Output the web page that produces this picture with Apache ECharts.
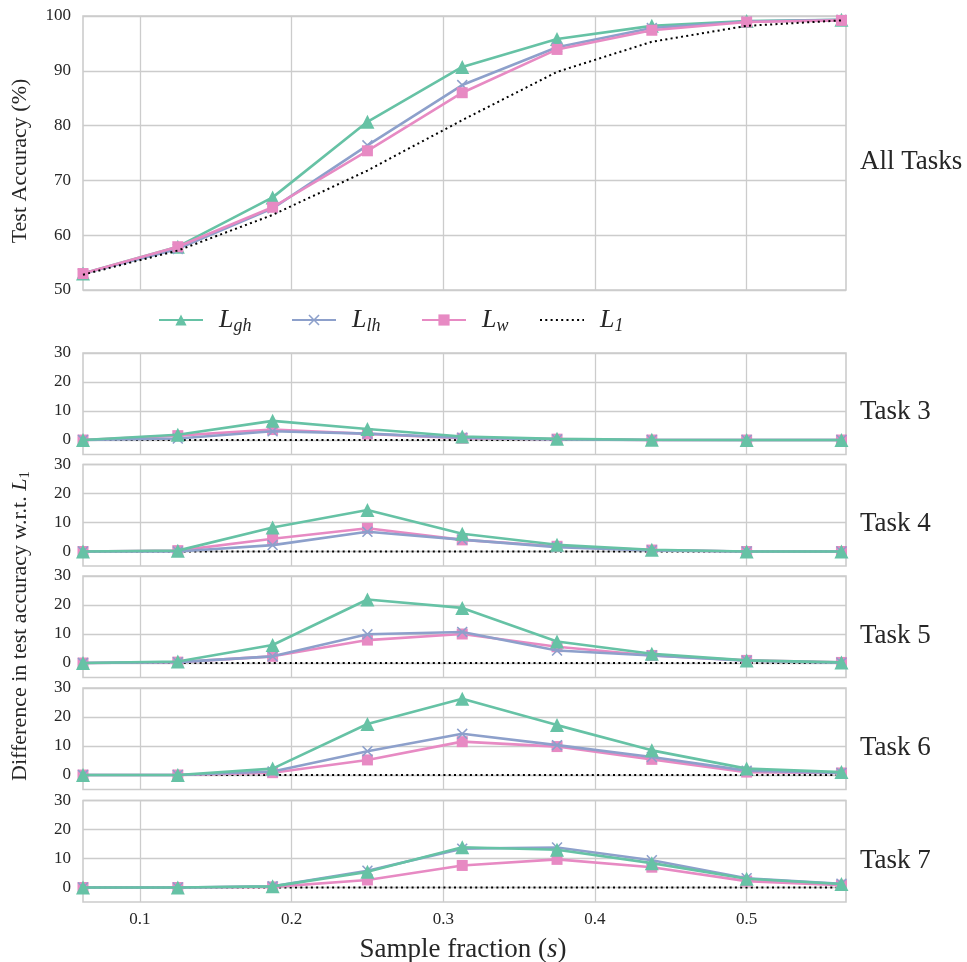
<!DOCTYPE html>
<html>
<head>
<meta charset="utf-8">
<script src="https://cdn.jsdelivr.net/npm/echarts@6/dist/echarts.min.js"></script>
<style>
  html, body { margin: 0; padding: 0; background: #ffffff; }
  #chart { width: 967px; height: 962px; }
</style>
</head>
<body>
<div id="chart"></div>
<script>
// ---- data ----
const sampleFractions = [0.0625, 0.125, 0.1875, 0.25, 0.3125, 0.375, 0.4375, 0.5, 0.5625];
const xTicks = [0.1, 0.2, 0.3, 0.4, 0.5];
const accTicks = [50, 60, 70, 80, 90, 100];
const diffTicks = [0, 10, 20, 30];

// All tasks: test accuracy (%)
const allGh = [53.0, 57.9, 66.9, 80.7, 90.7, 95.8, 98.2, 99.1, 99.3];
const allLh = [53.0, 57.5, 64.9, 76.4, 87.4, 94.3, 97.8, 99.0, 99.3];
const allW  = [53.0, 57.9, 65.1, 75.4, 86.0, 93.9, 97.4, 98.9, 99.2];
const allL1 = [52.8, 57.2, 63.7, 71.8, 81.0, 89.8, 95.3, 98.2, 99.2];

// Per task: difference in test accuracy w.r.t. L1
const taskNames = ['Task 3', 'Task 4', 'Task 5', 'Task 6', 'Task 7'];
const task3Gh = [0, 1.8, 6.6, 3.8, 1.2, 0.4, 0.1, 0.0, 0.0];
const task3Lh = [0, 0.5, 3.0, 2.2, 0.8, 0.2, 0.0, 0.0, 0.0];
const task3W  = [0, 1.5, 3.6, 2.1, 0.6, 0.3, 0.0, 0.0, 0.0];
const task4Gh = [0, 0.3, 8.3, 14.3, 6.1, 2.3, 0.6, 0.0, 0.0];
const task4Lh = [0, 0.0, 2.2, 6.8, 4.1, 1.5, 0.4, 0.0, 0.0];
const task4W  = [0, 0.3, 4.4, 8.0, 4.0, 1.8, 0.5, 0.0, 0.0];
const task5Gh = [0, 0.5, 6.2, 21.9, 19.0, 7.4, 3.2, 0.9, 0.2];
const task5Lh = [0, 0.3, 2.3, 9.9, 10.7, 4.3, 2.6, 0.8, 0.1];
const task5W  = [0, 0.3, 2.3, 7.9, 10.0, 5.6, 2.6, 0.9, 0.2];
const task6Gh = [0, 0.0, 2.2, 17.6, 26.3, 17.2, 8.5, 2.2, 1.0];
const task6Lh = [0, 0.0, 1.2, 8.2, 14.2, 10.3, 6.2, 1.5, 0.7];
const task6W  = [0, 0.0, 0.8, 5.2, 11.5, 9.8, 5.4, 1.0, 0.7];
const task7Gh = [0, 0.0, 0.4, 5.4, 13.9, 13.0, 8.4, 3.0, 1.2];
const task7Lh = [0, 0.0, 0.4, 5.8, 13.4, 13.8, 9.4, 3.2, 1.3];
const task7W  = [0, 0.0, 0.2, 2.6, 7.6, 9.7, 7.0, 2.2, 0.8];
const taskL1  = [0, 0, 0, 0, 0, 0, 0, 0, 0];

// ---- styling ----
const FONT = '"Liberation Serif", "DejaVu Serif", serif';
const TEXT = '#262626';
const LINE_GREY = '#cccccc';
const COLORS = { gh: '#66c2a5', lh: '#8da0cb', w: '#e78ac3', l1: '#000000' };
const NAMES = { gh: 'L_gh', lh: 'L_lh', w: 'L_w', l1: 'L_1' };
const SUBS = { L_gh: 'gh', L_lh: 'lh', L_w: 'w', L_1: '1' };
const CROSS = 'path://M0,1 L1,0 L5,4 L9,0 L10,1 L6,5 L10,9 L9,10 L5,6 L1,10 L0,9 L4,5 Z';

const panelTops = [16, 353, 464.5, 576, 688, 800.5];
const panelHeights = [274, 101.5, 101.5, 101.5, 101.5, 101.5];
const PLOT_LEFT = 83, PLOT_WIDTH = 763;

const panels = [
  { gh: allGh, lh: allLh, w: allW, l1: allL1 },
  { gh: task3Gh, lh: task3Lh, w: task3W, l1: taskL1 },
  { gh: task4Gh, lh: task4Lh, w: task4W, l1: taskL1 },
  { gh: task5Gh, lh: task5Lh, w: task5W, l1: taskL1 },
  { gh: task6Gh, lh: task6Lh, w: task6W, l1: taskL1 },
  { gh: task7Gh, lh: task7Lh, w: task7W, l1: taskL1 }
];

function seriesFor(key, values, idx) {
  const top = idx === 0;
  const z = top ? { gh: 2, lh: 3, w: 4, l1: 5 }[key] : { l1: 1, w: 2, lh: 3, gh: 4 }[key];
  const s = {
    type: 'line',
    name: NAMES[key],
    xAxisIndex: idx,
    yAxisIndex: idx,
    z: z,
    data: sampleFractions.map((x, i) => [x, values[i]]),
    color: COLORS[key],
    lineStyle: { color: COLORS[key], width: 2.6 },
    itemStyle: { color: COLORS[key] },
    emphasis: { disabled: true },
    animation: false,
    clip: false
  };
  if (key === 'gh') { s.symbol = 'triangle'; s.symbolSize = 14; }
  if (key === 'lh') { s.symbol = CROSS; s.symbolSize = 11; }
  if (key === 'w')  { s.symbol = 'rect'; s.symbolSize = 11; }
  if (key === 'l1') {
    s.symbol = 'none';
    s.showSymbol = false;
    s.lineStyle = { color: '#000000', width: 2, type: [2, 3.3] };
  }
  return s;
}

const grids = [], xAxes = [], yAxes = [], series = [];
panels.forEach((p, idx) => {
  grids.push({
    left: PLOT_LEFT, width: PLOT_WIDTH, top: panelTops[idx], height: panelHeights[idx],
    show: true, borderColor: LINE_GREY, borderWidth: 1.6, containLabel: false
  });
  xAxes.push({
    type: 'value', gridIndex: idx, min: 0.0625, max: 0.5655, splitNumber: 5,
    axisLine: { show: false },
    axisTick: { show: false, customValues: xTicks },
    axisLabel: {
      show: idx === panels.length - 1, customValues: xTicks,
      formatter: v => v.toFixed(1), fontFamily: FONT, fontSize: 17, color: TEXT, margin: 9
    },
    splitLine: { show: true, lineStyle: { color: LINE_GREY, width: 1.3 } }
  });
  const isTop = idx === 0;
  yAxes.push({
    type: 'value', gridIndex: idx,
    min: isTop ? 50 : -5, max: isTop ? 100 : 30,
    interval: isTop ? 10 : undefined, splitNumber: isTop ? 5 : 3,
    axisLine: { show: false },
    axisTick: { show: false, customValues: isTop ? accTicks : diffTicks },
    axisLabel: {
      customValues: isTop ? accTicks : diffTicks,
      fontFamily: FONT, fontSize: 17, color: TEXT, margin: 12
    },
    splitLine: { show: true, lineStyle: { color: LINE_GREY, width: 1.3 } }
  });
  ['gh', 'lh', 'w', 'l1'].forEach(k => series.push(seriesFor(k, p[k], idx)));
});

// one legend block per curve so each entry sits at its own spot
const legendLefts = [158, 291, 421, 539];
const legendRich = {
  i: { fontFamily: FONT, fontStyle: 'italic', fontSize: 26, lineHeight: 30, color: TEXT, padding: [0, 0, 0, 11] },
  s: { fontFamily: FONT, fontStyle: 'italic', fontSize: 18, lineHeight: 18, color: TEXT, verticalAlign: 'bottom' }
};
const legends = ['gh', 'lh', 'w', 'l1'].map((k, i) => {
  const lg = {
    data: [NAMES[k]],
    left: legendLefts[i], top: 307, padding: 0,
    itemWidth: 44, itemHeight: 14, selectedMode: false,
    formatter: name => '{i|L}{s|' + SUBS[name] + '}',
    textStyle: { fontFamily: FONT, fontSize: 26, color: TEXT, rich: legendRich }
  };
  // the plain dotted baseline has no marker in its key
  if (k === 'l1') lg.itemStyle = { opacity: 0 };
  return lg;
});

const panelLabelYs = [162, 412, 524, 636, 748, 861];
const panelLabels = ['All Tasks'].concat(taskNames);

const graphics = panelLabels.map((t, i) => ({
  type: 'text', x: 860, y: panelLabelYs[i],
  style: { text: t, fontFamily: FONT, fontSize: 27, fill: TEXT, align: 'left', verticalAlign: 'middle' }
}));
graphics.push({
  type: 'text', x: 20, y: 161, rotation: Math.PI / 2,
  style: { text: 'Test Accuracy (%)', fontFamily: FONT, fontSize: 22, fill: TEXT, align: 'center', verticalAlign: 'middle' }
});
graphics.push({
  type: 'text', x: 20, y: 626, rotation: Math.PI / 2,
  style: {
    text: 'Difference in test accuracy w.r.t. {i|L}{s|1}',
    fontFamily: FONT, fontSize: 22, fill: TEXT, align: 'center', verticalAlign: 'middle',
    rich: {
      i: { fontFamily: FONT, fontStyle: 'italic', fontSize: 22, lineHeight: 26, fill: TEXT },
      s: { fontFamily: FONT, fontSize: 15, lineHeight: 16, fill: TEXT, verticalAlign: 'bottom' }
    }
  }
});
graphics.push({
  type: 'text', x: 463, y: 950,
  style: {
    text: 'Sample fraction ({i|s})',
    fontFamily: FONT, fontSize: 27, fill: TEXT, align: 'center', verticalAlign: 'middle',
    rich: { i: { fontFamily: FONT, fontStyle: 'italic', fontSize: 27, fill: TEXT } }
  }
});

const chart = echarts.init(document.getElementById('chart'), null, { renderer: 'canvas' });
chart.setOption({
  backgroundColor: '#ffffff',
  animation: false,
  grid: grids,
  xAxis: xAxes,
  yAxis: yAxes,
  legend: legends,
  graphic: graphics,
  series: series
});
</script>
</body>
</html>
